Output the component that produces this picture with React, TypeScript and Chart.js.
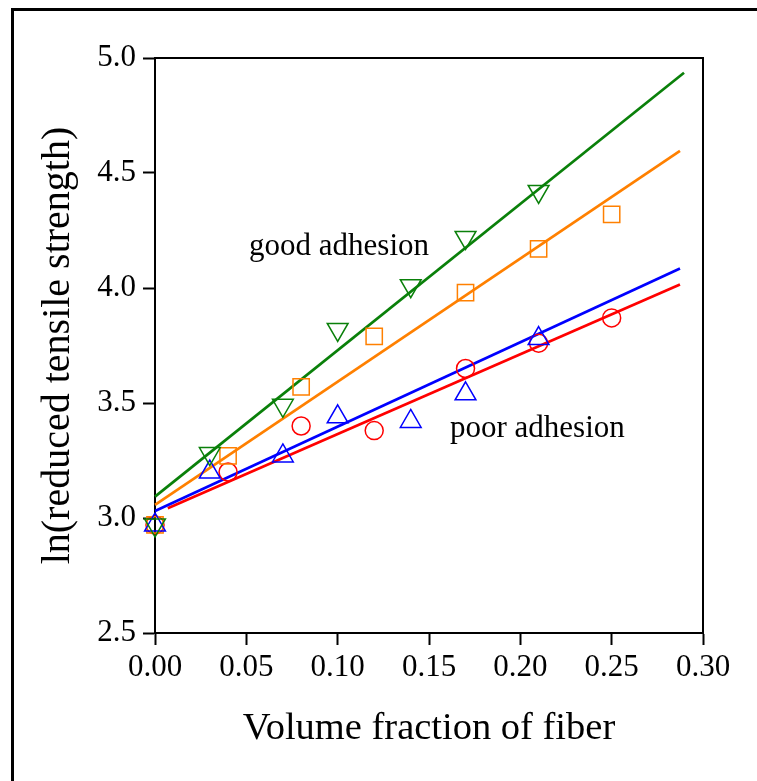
import React, { useEffect, useRef } from "react";
import { Chart, registerables } from "chart.js";

Chart.register(...registerables);

// ---- data ----
const poorCircleX = [0, 0.04, 0.08, 0.12, 0.17, 0.21, 0.25];
const poorCircleY = [2.97, 3.2, 3.4, 3.38, 3.65, 3.76, 3.87];

const poorTriX = [0, 0.03, 0.07, 0.1, 0.14, 0.17, 0.21];
const poorTriY = [2.97, 3.2, 3.27, 3.44, 3.42, 3.54, 3.78];

const goodSquareX = [0, 0.04, 0.08, 0.12, 0.17, 0.21, 0.25];
const goodSquareY = [2.97, 3.27, 3.57, 3.79, 3.98, 4.17, 4.32];

const goodTriX = [0, 0.03, 0.07, 0.1, 0.14, 0.17, 0.21];
const goodTriY = [2.97, 3.28, 3.49, 3.82, 4.01, 4.22, 4.42];

// linear fits (start / end)
const greenFitX = [0, 0.2896];
const greenFitY = [3.093, 4.936];
const orangeFitX = [0, 0.2874];
const orangeFitY = [3.057, 4.596];
const blueFitX = [0, 0.2874];
const blueFitY = [3.03, 4.085];
const redFitX = [0.007, 0.2874];
const redFitY = [3.042, 4.015];

const xTicks = [0, 0.05, 0.1, 0.15, 0.2, 0.25, 0.3];
const yTicks = [2.5, 3.0, 3.5, 4.0, 4.5, 5.0];

const annotations = [
  { text: "good adhesion", x: 0.0515, y: 4.143 },
  { text: "poor adhesion", x: 0.1615, y: 3.352 },
];

const GREEN = "#0a800a";
const ORANGE = "#ff8000";
const BLUE = "#0000ff";
const RED = "#ff0000";
const FONT = "'Liberation Serif', 'Times New Roman', serif";

const pts = (xs: number[], ys: number[]) => xs.map((x, i) => ({ x, y: ys[i] }));

export default function App() {
  const ref = useRef<HTMLCanvasElement | null>(null);

  useEffect(() => {
    if (!ref.current) return;

    const boxPlugin = {
      id: "box",
      beforeDatasetsDraw(chart: any) {
        const { ctx, chartArea } = chart;
        ctx.save();
        ctx.strokeStyle = "#000";
        ctx.lineWidth = 2;
        ctx.strokeRect(chartArea.left, chartArea.top, chartArea.right - chartArea.left, chartArea.bottom - chartArea.top);
        ctx.restore();
      },
      afterDatasetsDraw(chart: any) {
        const { ctx, scales } = chart;
        ctx.save();
        ctx.fillStyle = "#000";
        ctx.font = `31px ${FONT}`;
        ctx.textAlign = "left";
        ctx.textBaseline = "alphabetic";
        annotations.forEach((a) => {
          ctx.fillText(a.text, scales.x.getPixelForValue(a.x), scales.y.getPixelForValue(a.y));
        });
        ctx.restore();
      },
    };

    const lineDs = (xs: number[], ys: number[], color: string) => ({
      type: "line" as const,
      data: pts(xs, ys),
      borderColor: color,
      borderWidth: 2.7,
      pointRadius: 0,
      showLine: true,
      fill: false,
      clip: false as any,
    });
    const markDs = (xs: number[], ys: number[], color: string, style: string, radius: number, rotation = 0) => ({
      type: "scatter" as const,
      data: pts(xs, ys),
      borderColor: color,
      backgroundColor: "rgba(0,0,0,0)",
      pointStyle: style,
      pointRadius: radius,
      pointRotation: rotation,
      pointBorderWidth: 1.5,
      showLine: false,
      clip: false as any,
    });

    const chart = new Chart(ref.current, {
      type: "scatter",
      data: {
        datasets: [
          markDs(goodTriX, goodTriY, GREEN, "triangle", 12, 180),
          markDs(poorTriX, poorTriY, BLUE, "triangle", 12, 0),
          markDs(goodSquareX, goodSquareY, ORANGE, "rect", 11.5),
          markDs(poorCircleX, poorCircleY, RED, "circle", 9),
          lineDs(greenFitX, greenFitY, GREEN),
          lineDs(orangeFitX, orangeFitY, ORANGE),
          lineDs(blueFitX, blueFitY, BLUE),
          lineDs(redFitX, redFitY, RED),
        ] as any,
      },
      options: {
        responsive: false,
        animation: false,
        events: [],
        devicePixelRatio: 1,
        layout: { padding: { left: 0, top: 58, right: 54, bottom: 0 } },
        plugins: { legend: { display: false }, tooltip: { enabled: false } },
        scales: {
          x: {
            type: "linear",
            min: 0,
            max: 0.3,
            afterBuildTicks: (s: any) => {
              s.ticks = xTicks.map((v) => ({ value: v }));
            },
            afterFit: (s: any) => {
              s.height = 148;
            },
            ticks: {
              callback: (v: any) => Number(v).toFixed(2),
              color: "#000",
              font: { family: FONT, size: 31 },
              padding: 4,
              maxRotation: 0,
              autoSkip: false,
            },
            grid: { drawOnChartArea: false, drawTicks: true, tickLength: 12, tickWidth: 2, tickColor: "#000" },
            border: { display: true, color: "#000", width: 2 },
            title: {
              display: true,
              text: "Volume fraction of fiber",
              color: "#000",
              font: { family: FONT, size: 38.5 },
              padding: { top: 0, bottom: 29 },
            },
          },
          y: {
            type: "linear",
            min: 2.5,
            max: 5.0,
            afterBuildTicks: (s: any) => {
              s.ticks = yTicks.map((v) => ({ value: v }));
            },
            afterFit: (s: any) => {
              s.width = 155;
            },
            ticks: {
              callback: (v: any) => Number(v).toFixed(1),
              color: "#000",
              font: { family: FONT, size: 31 },
              padding: 7,
              autoSkip: false,
            },
            grid: { drawOnChartArea: false, drawTicks: true, tickLength: 12, tickWidth: 2, tickColor: "#000" },
            border: { display: true, color: "#000", width: 2 },
            title: {
              display: true,
              text: "ln(reduced tensile strength)",
              color: "#000",
              font: { family: FONT, size: 40 },
              padding: { top: 34, bottom: 0 },
            },
          },
        },
      } as any,
      plugins: [boxPlugin],
    });
    return () => chart.destroy();
  }, []);

  return (
    <div
      style={{
        position: "fixed",
        left: 0,
        top: 0,
        width: 757,
        height: 781,
        overflow: "hidden",
        background: "#fff",
      }}
    >
      <div
        style={{
          position: "absolute",
          left: 11,
          top: 8,
          width: 800,
          height: 820,
          border: "3px solid #000",
          boxSizing: "border-box",
        }}
      />
      <canvas ref={ref} width={757} height={781} style={{ position: "absolute", left: 0, top: 0 }} />
    </div>
  );
}
